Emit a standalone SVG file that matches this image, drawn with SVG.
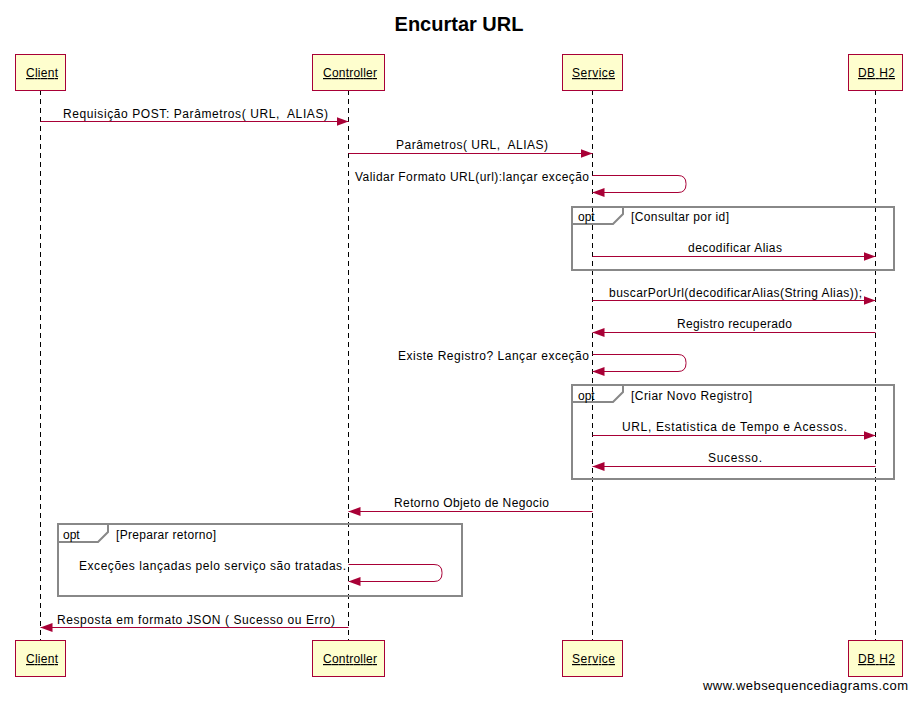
<svg xmlns="http://www.w3.org/2000/svg" width="917" height="701" viewBox="0 0 917 701">
<style>
.bg{fill:#ffffff}
.title{font-family:"Liberation Sans",Arial,sans-serif;font-size:20px;font-weight:bold;fill:#000}
.lbl{font-family:"Liberation Sans",Arial,sans-serif;font-size:12px;fill:#000;white-space:pre}
.pname{font-family:"Liberation Sans",Arial,sans-serif;font-size:12px;fill:#000;text-decoration:underline}
.pbox{fill:#FEFECE;stroke:#A80036;stroke-width:1}
.life{stroke:#000;stroke-width:1;stroke-dasharray:5,4;fill:none}
.msg{stroke:#A80036;stroke-width:1;fill:none;marker-end:url(#arr)}
.frame{fill:none;stroke:#888888;stroke-width:2}
.wm{font-family:"Liberation Sans",Arial,sans-serif;font-size:13px;fill:#000}
</style>
<defs>
<marker id="arr" markerUnits="userSpaceOnUse" markerWidth="12" markerHeight="9" refX="12" refY="4.5" orient="auto">
<path d="M0,0 L12,4.5 L0,9 z" fill="#A80036"/>
</marker>
</defs>
<rect class="bg" x="0" y="0" width="917" height="701"/>
<text class="title" x="459" y="31" text-anchor="middle">Encurtar URL</text>

<g id="lifelines">
<line class="life" x1="40.5" y1="90" x2="40.5" y2="640"/>
<line class="life" x1="348.5" y1="90" x2="348.5" y2="640"/>
<line class="life" x1="592.5" y1="90" x2="592.5" y2="640"/>
<line class="life" x1="875.5" y1="90" x2="875.5" y2="640"/>
</g>

<g id="frames">
<g id="opt1">
<rect class="frame" x="572" y="207" width="322" height="63"/>
<path class="frame" d="M572,224 H613 L623,214 V207"/>
<text class="lbl" x="578" y="221">opt</text>
<text class="lbl" x="631" y="221" textLength="98">[Consultar por id]</text>
</g>
<g id="opt2">
<rect class="frame" x="572" y="385" width="322" height="94"/>
<path class="frame" d="M572,402 H613 L623,392 V385"/>
<text class="lbl" x="578" y="400">opt</text>
<text class="lbl" x="631" y="400" textLength="121">[Criar Novo Registro]</text>
</g>
<g id="opt3">
<rect class="frame" x="58" y="524" width="404" height="72"/>
<path class="frame" d="M58,542 H98 L108,532 V524"/>
<text class="lbl" x="63" y="539">opt</text>
<text class="lbl" x="116" y="539" textLength="100">[Preparar retorno]</text>
</g>
</g>

<g id="connectors">
<line class="msg" x1="40.5" y1="121.5" x2="348.5" y2="121.5"/>
<text class="lbl" x="63" y="118" textLength="265" xml:space="preserve">Requisição POST: Parâmetros( URL,  ALIAS)</text>

<line class="msg" x1="348.5" y1="153.5" x2="592.5" y2="153.5"/>
<text class="lbl" x="396" y="149" textLength="152" xml:space="preserve">Parâmetros( URL,  ALIAS)</text>

<path class="msg" d="M592.5,175.5 H678 Q686,175.5 686,183.5 V184.5 Q686,192.5 678,192.5 H592.5"/>
<text class="lbl" x="355" y="181" textLength="234">Validar Formato URL(url):lançar exceção</text>

<line class="msg" x1="592.5" y1="256.5" x2="875.5" y2="256.5"/>
<text class="lbl" x="688" y="252" textLength="94">decodificar Alias</text>

<line class="msg" x1="592.5" y1="300.5" x2="875.5" y2="300.5"/>
<text class="lbl" x="609" y="297" textLength="253">buscarPorUrl(decodificarAlias(String Alias));</text>

<line class="msg" x1="875.5" y1="332.5" x2="592.5" y2="332.5"/>
<text class="lbl" x="677" y="328" textLength="115">Registro recuperado</text>

<path class="msg" d="M592.5,354.5 H678 Q686,354.5 686,362.5 V363.5 Q686,371.5 678,371.5 H592.5"/>
<text class="lbl" x="398" y="360" textLength="191">Existe Registro? Lançar exceção</text>

<line class="msg" x1="592.5" y1="435.5" x2="875.5" y2="435.5"/>
<text class="lbl" x="622" y="431" textLength="225">URL, Estatistica de Tempo e Acessos.</text>

<line class="msg" x1="875.5" y1="466.5" x2="592.5" y2="466.5"/>
<text class="lbl" x="708" y="462" textLength="54">Sucesso.</text>

<line class="msg" x1="592.5" y1="511.5" x2="348.5" y2="511.5"/>
<text class="lbl" x="394" y="507" textLength="155">Retorno Objeto de Negocio</text>

<path class="msg" d="M348.5,564.5 H434 Q442,564.5 442,572.5 V573.5 Q442,581.5 434,581.5 H348.5"/>
<text class="lbl" x="79" y="570" textLength="267">Exceções lançadas pelo serviço são tratadas.</text>

<line class="msg" x1="348.5" y1="627.5" x2="40.5" y2="627.5"/>
<text class="lbl" x="57" y="624" textLength="278">Resposta em formato JSON ( Sucesso ou Erro)</text>
</g>

<g id="Client">
<rect class="pbox" x="15.5" y="54.5" width="50" height="36"/>
<text class="pname" x="26" y="77" textLength="32">Client</text>
<rect class="pbox" x="15.5" y="640.5" width="50" height="36"/>
<text class="pname" x="26" y="663" textLength="32">Client</text>
</g>
<g id="Controller">
<rect class="pbox" x="312.5" y="54.5" width="72" height="36"/>
<text class="pname" x="323" y="77" textLength="54">Controller</text>
<rect class="pbox" x="312.5" y="640.5" width="72" height="36"/>
<text class="pname" x="323" y="663" textLength="54">Controller</text>
</g>
<g id="Service">
<rect class="pbox" x="562.5" y="54.5" width="60" height="36"/>
<text class="pname" x="572" y="77" textLength="43">Service</text>
<rect class="pbox" x="562.5" y="640.5" width="60" height="36"/>
<text class="pname" x="572" y="663" textLength="43">Service</text>
</g>
<g id="DBH2">
<rect class="pbox" x="848.5" y="54.5" width="54" height="36"/>
<text class="pname" x="858" y="77" textLength="37">DB H2</text>
<rect class="pbox" x="848.5" y="640.5" width="54" height="36"/>
<text class="pname" x="858" y="663" textLength="37">DB H2</text>
</g>

<text class="wm" x="703" y="690" textLength="205">www.websequencediagrams.com</text>
</svg>
